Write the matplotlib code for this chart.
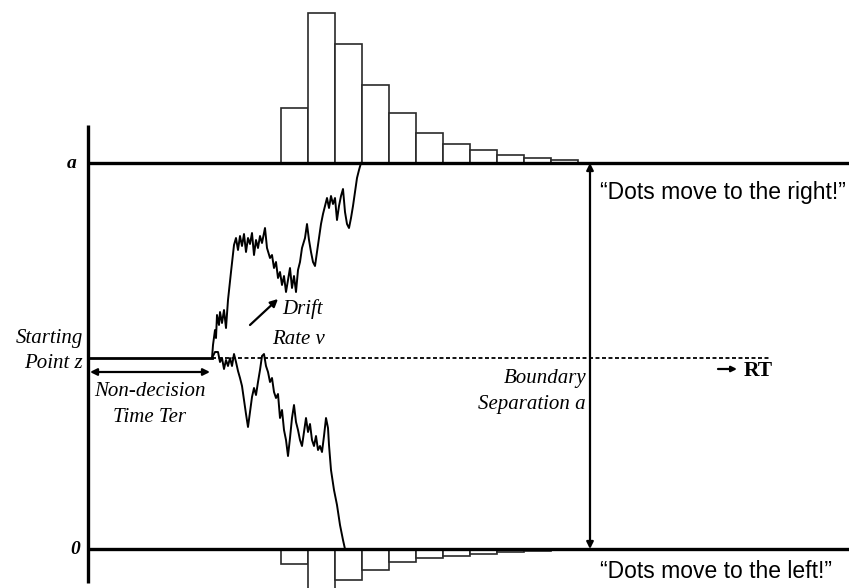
import matplotlib
matplotlib.use("Agg")
import matplotlib.pyplot as plt

# ---------------- data (time units on x, evidence units on y; 0 = lower boundary) ----------------
a_bound = 386          # upper boundary "a"
z_start = 191          # starting point z
ter_end = 212          # end of non-decision time
t_origin = 88          # time origin (vertical axis)

upper_t = [212, 213, 215, 216, 217, 219, 220, 222, 224, 226, 228, 231, 234, 236, 238, 240, 242, 244,
           246, 248, 250, 252, 254, 256, 258, 260, 262, 265, 267, 270, 272, 274, 276, 278, 280, 282,
           284, 286, 288, 290, 292, 294, 296, 298, 300, 302, 305, 307, 309, 311, 313, 315, 317, 319,
           321, 323, 325, 327, 329, 331, 333, 335, 337, 339, 341, 343, 345, 347, 349, 351, 353, 355,
           357, 359, 361]
upper_x = [191, 204, 219, 211, 234, 224, 237, 226, 239, 221, 249, 277, 304, 311, 299, 313, 303, 315,
           297, 311, 305, 316, 294, 309, 301, 313, 306, 321, 301, 291, 294, 281, 287, 271, 277, 264,
           273, 257, 269, 281, 261, 273, 257, 279, 287, 301, 311, 325, 309, 297, 287, 283, 297, 311,
           325, 335, 343, 351, 341, 353, 345, 351, 329, 343, 353, 360, 337, 325, 321, 331, 343, 357,
           371, 379, 386]

lower_t = [212, 215, 218, 220, 222, 224, 226, 228, 230, 232, 234, 236, 238, 240, 242, 244, 246, 248,
           250, 252, 254, 256, 258, 260, 262, 264, 266, 268, 270, 272, 274, 276, 278, 280, 282, 284,
           286, 288, 290, 292, 294, 296, 298, 300, 302, 304, 306, 308, 310, 312, 314, 316, 318, 320,
           322, 324, 326, 328, 329, 331, 334, 337, 340, 343, 345]
lower_x = [191, 197, 197, 187, 191, 180, 189, 183, 191, 183, 195, 187, 178, 171, 163, 149, 135, 122,
           137, 152, 161, 154, 167, 179, 193, 195, 183, 177, 167, 171, 157, 151, 155, 131, 139, 119,
           109, 93, 111, 131, 144, 127, 119, 109, 103, 117, 131, 117, 125, 109, 103, 113, 99, 103,
           97, 113, 131, 121, 104, 79, 59, 44, 24, 9, 0]

rt_bin_start = 281.5
rt_bin_width = 27
upper_counts = [55, 150, 119, 78, 50, 30, 19, 13, 8, 5, 3]
lower_counts = [15, 40, 31, 21, 13, 9, 7, 5, 3, 2, 1]

# ---------------- figure ----------------
W, H = 849, 588
fig = plt.figure(figsize=(W / 100, H / 100), dpi=100)
ax = fig.add_axes([0, 0, 1, 1])
ax.set_xlim(0, W)
ax.set_ylim(-39, 549)
ax.axis("off")

serif = "Liberation Serif"
sans = "Liberation Sans"

# histograms
lefts = [rt_bin_start + i * rt_bin_width for i in range(len(upper_counts))]
ax.bar(lefts, upper_counts, width=rt_bin_width, bottom=a_bound, align="edge",
       facecolor="white", edgecolor="#2a2a2a", linewidth=1.2, zorder=2)
ax.bar(lefts, [-c for c in lower_counts], width=rt_bin_width, bottom=0, align="edge",
       facecolor="white", edgecolor="#2a2a2a", linewidth=1.2, zorder=2)

# boundaries and axis
ax.plot([t_origin, W], [a_bound, a_bound], color="black", lw=2.4, solid_capstyle="butt", zorder=3)
ax.plot([t_origin, W], [0, 0], color="black", lw=2.4, solid_capstyle="butt", zorder=3)
ax.plot([t_origin, t_origin], [424, -34], color="black", lw=2.4, solid_capstyle="butt", zorder=3)

# starting point line and dashed continuation
ax.plot([t_origin, ter_end], [z_start, z_start], color="black", lw=2.0, zorder=3)
ax.plot([ter_end, 770], [z_start, z_start], color="black", lw=1.3, dashes=(2.2, 1.4), zorder=3)

# diffusion paths
ax.plot(upper_t, upper_x, color="black", lw=1.4, zorder=4)
ax.plot(lower_t, lower_x, color="black", lw=1.4, zorder=4)

arrow = dict(arrowstyle="-|>", color="black", lw=1.6, mutation_scale=11, shrinkA=0, shrinkB=0)
darrow = dict(arrowstyle="<|-|>", color="black", lw=1.6, mutation_scale=10, shrinkA=0, shrinkB=0)

# non-decision time arrow
ax.annotate("", xy=(210, 177), xytext=(90, 177), arrowprops=darrow)
# boundary separation arrow
ax.annotate("", xy=(590, a_bound), xytext=(590, 0), arrowprops=darrow)
# drift arrow
ax.annotate("", xy=(278, 250), xytext=(250, 224), arrowprops=arrow)
# RT arrow
ax.annotate("", xy=(737, 180), xytext=(718, 180), arrowprops=dict(arrowstyle="-|>", color="black",
            lw=1.6, mutation_scale=8, shrinkA=0, shrinkB=0))

it = dict(family=serif, style="italic", fontsize=15, color="black")
ax.text(83, 211, "Starting", ha="right", va="center", **it)
ax.text(83, 186, "Point z", ha="right", va="center", **it)
ax.text(150, 157, "Non-decision", ha="center", va="center", **it)
ax.text(150, 132, "Time Ter", ha="center", va="center", **it)
ax.text(282, 240, "Drift", ha="left", va="center", **it)
ax.text(272, 210, "Rate v", ha="left", va="center", **it)
ax.text(586, 170, "Boundary", ha="right", va="center", **it)
ax.text(586, 145, "Separation a", ha="right", va="center", **it)

ax.text(72, a_bound, "a", ha="center", va="center", family=serif, style="italic",
        weight="bold", fontsize=14)
ax.text(75, 0, "0", ha="center", va="center", family=serif, style="italic",
        weight="bold", fontsize=14)
ax.text(744, 178, "RT", ha="left", va="center", family=serif, weight="bold", fontsize=15.5)

ax.text(600, 357, "\u201cDots move to the right!\u201d", ha="left", va="center",
        family=sans, fontsize=16.5)
ax.text(600, -23, "\u201cDots move to the left!\u201d", ha="left", va="center",
        family=sans, fontsize=16.5)

fig.savefig("out.png", dpi=100)
